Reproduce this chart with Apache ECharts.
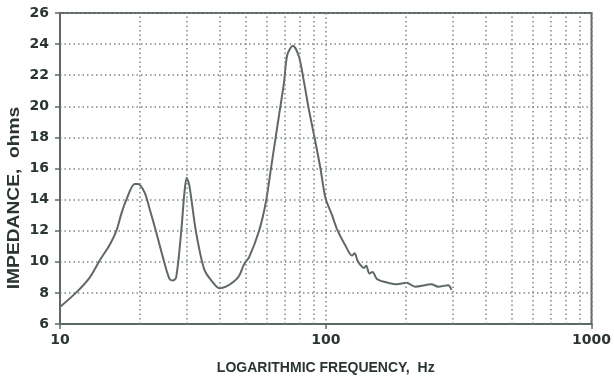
<!DOCTYPE html>
<html>
<head>
<meta charset="utf-8">
<script src="https://cdn.jsdelivr.net/npm/echarts@6/dist/echarts.min.js"></script>
<style>
  html, body { margin: 0; padding: 0; background: #fff; }
  #chart { width: 614px; height: 380px; }
</style>
</head>
<body>
<div id="chart"></div>
<script>
// frequency (Hz)
const freq = [10.0, 11.55, 12.95, 14.12, 15.39, 16.31, 17.02, 17.78, 19.09, 19.65,
  20.82, 21.74, 23.02, 24.38, 25.82, 26.57, 27.36, 28.57, 29.39, 29.98,
  30.68, 32.51, 34.92, 37.52, 39.74, 42.11, 45.23, 47.23, 49.31, 51.48,
  56.12, 59.46, 62.08, 63.87, 66.68, 69.61, 71.63, 75.23, 79.25, 82.74,
  86.38, 90.96, 95.52, 99.74, 105.6, 110.2, 118.5, 125.5, 128.5, 131.5,
  134.9, 139.0, 142.0, 146.0, 150.0, 155.7, 167.3, 184.9, 201.6, 216.8,
  250.1, 265.0, 288.9, 297.2];
// impedance (ohms)
const impedance = [7.1, 8.05, 9.0, 10.1, 11.1, 12.0, 13.1, 14.0, 15.0, 15.0,
  14.45, 13.4, 11.9, 10.3, 8.9, 8.8, 9.0, 11.9, 14.45, 15.4,
  14.9, 11.9, 9.5, 8.7, 8.3, 8.4, 8.75, 9.1, 9.85, 10.3,
  12.0, 13.8, 15.9, 17.3, 19.4, 21.5, 23.3, 23.9, 23.2, 21.6,
  19.8, 17.9, 16.0, 14.1, 13.0, 12.1, 11.05, 10.4, 10.55, 10.1,
  9.8, 9.6, 9.75, 9.25, 9.35, 8.9, 8.7, 8.55, 8.65, 8.4,
  8.55, 8.4, 8.5, 8.2];
// extra dotted verticals of the log grid
const logGrid = [20, 30, 40, 50, 60, 70, 80, 90, 200, 300, 400, 500, 600, 700, 800, 900];
const xTickLabels = [10, 100, 1000];

const labelColor = '#2b352f';
const axisColor = '#5e6963';
const dotStyle = { color: '#7f8681', width: 1.5, type: [1.5, 3] };

const chart = echarts.init(document.getElementById('chart'));

const option = {
  animation: false,
  textStyle: { fontFamily: 'Liberation Sans' },
  grid: {
    left: 60, right: 20, top: 13, bottom: 49,
    show: true,
    borderColor: axisColor,
    borderWidth: 2
  },
  xAxis: {
    type: 'log',
    logBase: 10,
    min: 10,
    max: 1000,
    name: 'LOGARITHMIC FREQUENCY,  Hz',
    nameLocation: 'middle',
    nameGap: 37,
    nameTextStyle: { color: labelColor, fontWeight: 'bold', fontSize: 14 },
    axisLine: { lineStyle: { color: axisColor, width: 2 } },
    axisTick: { show: true, length: 5, lineStyle: { color: axisColor, width: 1.5 } },
    axisLabel: {
      color: labelColor, fontWeight: 'bold', fontSize: 14, margin: 9,
      fontFamily: 'DejaVu Sans',
      formatter: (v) => xTickLabels.indexOf(Math.round(v)) >= 0 ? String(Math.round(v)) : ''
    },
    splitLine: { show: true, lineStyle: dotStyle },
    minorTick: { show: false }
  },
  yAxis: {
    type: 'value',
    min: 6,
    max: 26,
    interval: 2,
    axisLine: { show: true, lineStyle: { color: axisColor, width: 2 } },
    axisTick: { show: true, length: 5, lineStyle: { color: axisColor, width: 1.5 } },
    axisLabel: { color: labelColor, fontWeight: 'bold', fontSize: 14, margin: 11, fontFamily: 'DejaVu Sans' },
    splitLine: { show: true, lineStyle: dotStyle }
  },
  graphic: [{
    type: 'text',
    x: 15,
    y: 198,
    rotation: Math.PI / 2,
    scaleX: 1.2,
    style: {
      text: 'IMPEDANCE,  ohms',
      font: 'bold 16px "Liberation Sans"',
      fill: labelColor,
      align: 'center',
      verticalAlign: 'middle'
    }
  }],
  series: [{
    type: 'line',
    data: freq.map((f, i) => [f, impedance[i]]),
    smooth: 0.3,
    showSymbol: false,
    lineStyle: { color: '#5f6963', width: 2 },
    markLine: {
      silent: true,
      symbol: 'none',
      label: { show: false },
      lineStyle: dotStyle,
      data: logGrid.map((v) => ({ xAxis: v }))
    }
  }]
};

chart.setOption(option);
</script>
</body>
</html>
